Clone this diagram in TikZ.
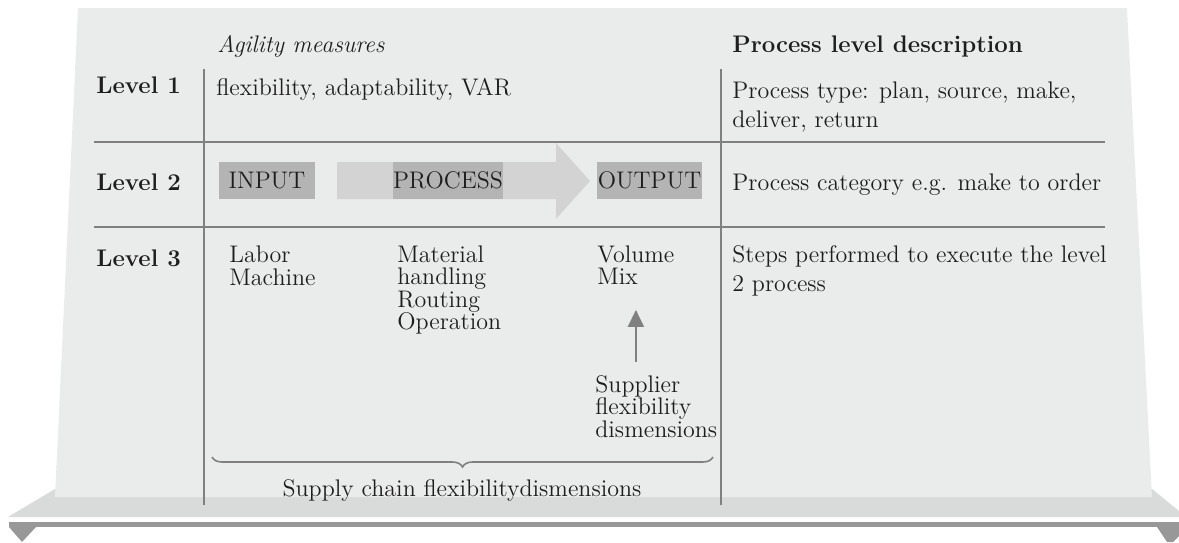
\documentclass[tikz,border=0pt]{standalone}
\usepackage{tikz}
\usetikzlibrary{arrows.meta, decorations.pathreplacing}

\definecolor{panelgray}{RGB}{234,235,235}
\definecolor{shelfgray}{RGB}{217,218,218}
\definecolor{railgray}{RGB}{152,152,152}
\definecolor{rulegray}{RGB}{128,128,128}
\definecolor{boxgray}{RGB}{180,180,180}
\definecolor{arrowgray}{RGB}{211,211,211}
\definecolor{inkgray}{RGB}{30,30,30}

\begin{document}
\begin{tikzpicture}[
            x=0.5pt, y=-0.5pt,
            every node/.style={text=inkgray, inner sep=0pt, font=\fontsize{12}{14.5}\selectfont},
            levelnode/.style={anchor=base west, font=\fontsize{12}{14.5}\selectfont\bfseries},
            headnode/.style={anchor=base west, font=\fontsize{12}{14.5}\selectfont\itshape},
            cellnode/.style={anchor=base west, align=left},
            listnode/.style={anchor=base west, align=left, font=\fontsize{12}{11.25}\selectfont},
            tagbox/.style={fill=boxgray, minimum height=18.5pt},
            ruleline/.style={draw=rulegray, line width=0.8pt},
            uparrow/.style={draw=rulegray, line width=1pt, -{Triangle[width=8pt, length=8.5pt]}},
            bracestyle/.style={draw=rulegray, line width=0.8pt, decorate, decoration={brace, amplitude=5pt}},
            ]
            \useasboundingbox (0,0) rectangle (1179,542);

            % shelf under the board
            \fill[shelfgray] (55,489) -- (1152,489) -- (1179,511) -- (1179,517) -- (8,517) -- cycle;
            \fill[railgray] (9,522) rectangle (1179,527);
            \fill[railgray] (9,527) -- (36,527) -- (22,542) -- cycle;
            \fill[railgray] (1157,527) -- (1179,527) -- (1179,536) -- (1173,542) -- (1167,542) -- cycle;
            \fill[panelgray] (78,8) -- (1127,8) -- (1152,497) -- (55,497) -- cycle;

            % table rules
            \draw[ruleline] (94,142) -- (1105,142);
            \draw[ruleline] (94,227) -- (1105,227);
            \draw[ruleline] (204,69) -- (204,505);
            \draw[ruleline] (721,69) -- (721,505);

            % headers and levels (multi-line nodes sit on their last line)
            \node[headnode]  (agil)  at (217,52) {Agility measures};
            \node[levelnode] (desc)  at (732,52) {Process level description};
            \node[levelnode] (lv1)   at (96,93)  {Level 1};
            \node[levelnode] (lv2)   at (96,190) {Level 2};
            \node[levelnode] (lv3)   at (96,266) {Level 3};

            % level 1
            \node[cellnode]  (meas)  at (216,95)  {flexibility, adaptability, VAR};
            \node[cellnode]  (ptype) at (732,127) {Process type: plan, source, make,\\deliver, return};

            % level 2
            \fill[arrowgray] (337,162) -- (556,162) -- (556,143) -- (590,181) -- (556,219) -- (556,199) -- (337,199) -- cycle;
            \node[tagbox, minimum width=48pt]   (inp)  at (267,180.5)   {INPUT};
            \node[tagbox, minimum width=53pt]   (proc) at (448,180.5)   {PROCESS};
            \node[tagbox, minimum width=52.5pt] (outp) at (649.5,180.5) {OUTPUT};
            \node[cellnode]  (pcat)  at (732,190) {Process category e.g. make to order};

            % level 3
            \node[listnode]  (lab)   at (229,285)   {Labor\\Machine};
            \node[listnode]  (mat)   at (397,329.5) {Material\\handling\\Routing\\Operation};
            \node[listnode]  (vol)   at (597,284.5) {Volume\\Mix};
            \node[listnode]  (sup)   at (595,437)   {Supplier\\flexibility\\dismensions};
            \node[cellnode]  (steps) at (732,291)   {Steps performed to execute the level\\2 process};

            \draw[uparrow, shorten <=6.5pt, shorten >=12.5pt] (sup.north -| vol.south) -- (vol.south);

            % brace
            \coordinate (brr) at (713,457);
            \coordinate (brl) at (212,457);
            \draw[bracestyle] (brr) -- (brl);
            \node[cellnode, anchor=base] (scfd) at (462,496) {Supply chain flexibilitydismensions};
\end{tikzpicture}
\end{document}
